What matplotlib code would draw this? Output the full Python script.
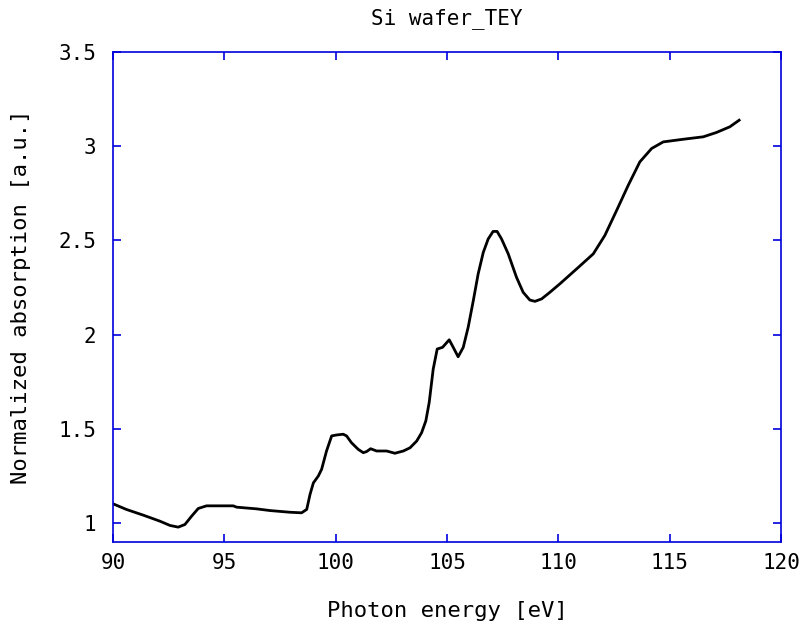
import numpy as np
import matplotlib
matplotlib.use("Agg")
from matplotlib import pyplot as plt

# values
energy = [90.0, 90.6, 91.35, 92.1, 92.56, 92.93, 93.23, 93.53, 93.83, 94.2, 95.4, 95.55,
          96.45, 97.05, 97.95, 98.47, 98.7, 98.85, 99.0, 99.22, 99.37, 99.59, 99.82,
          100.04, 100.34, 100.49, 100.71, 101.01, 101.24, 101.39, 101.57, 101.84,
          102.29, 102.66, 103.04, 103.34, 103.64, 103.86, 104.05, 104.2, 104.38,
          104.56, 104.8, 105.1, 105.28, 105.5, 105.73, 105.95, 106.18, 106.4, 106.63,
          106.85, 107.07, 107.25, 107.45, 107.75, 108.12, 108.42, 108.72, 108.95,
          109.25, 109.62, 110.07, 110.82, 111.57, 112.09, 112.62, 113.14, 113.66,
          114.19, 114.71, 115.61, 116.51, 117.1, 117.7, 118.12]
absorb = [1.103, 1.073, 1.043, 1.011, 0.988, 0.979, 0.993, 1.037, 1.078, 1.092, 1.092, 1.085,
          1.076, 1.067, 1.058, 1.055, 1.073, 1.153, 1.214, 1.25, 1.286, 1.383, 1.463,
          1.468, 1.472, 1.463, 1.427, 1.392, 1.374, 1.38, 1.395, 1.383,
          1.383, 1.371, 1.383, 1.40, 1.436, 1.48, 1.543, 1.64, 1.817,
          1.924, 1.933, 1.973, 1.933, 1.883, 1.933, 2.039, 2.18, 2.323, 2.437,
          2.508, 2.548, 2.548, 2.508, 2.429, 2.305, 2.225, 2.184, 2.177,
          2.19, 2.225, 2.27, 2.349, 2.429, 2.527, 2.66, 2.793, 2.917,
          2.988, 3.023, 3.037, 3.05, 3.073, 3.103, 3.138]

x_ticks = [90, 95, 100, 105, 110, 115, 120]
y_ticks = [1, 1.5, 2, 2.5, 3, 3.5]
y_labels = ["1", "1.5", "2", "2.5", "3", "3.5"]

plt.rcParams['font.family'] = ['DejaVu Sans Mono']

fig = plt.figure(figsize=(8.07, 6.31), dpi=100)
ax = fig.add_axes([0.14, 0.141, 0.8278, 0.7766])

ax.plot(energy, absorb, color='black', linewidth=2.0, solid_joinstyle='round')

ax.set_xlim(90, 120)
ax.set_ylim(0.9, 3.5)
ax.set_xticks(x_ticks)
ax.set_yticks(y_ticks)
ax.set_yticklabels(y_labels)

blue = '#0000dd'
for s in ax.spines.values():
    s.set_color(blue)
    s.set_linewidth(1.2)
ax.tick_params(direction='in', length=6, width=1.2, color=blue, labelsize=15,
               top=True, right=True)
ax.tick_params(axis='x', pad=8)
ax.tick_params(axis='y', pad=12)

ax.set_xlabel('Photon energy [eV]', fontsize=16, labelpad=20)
ax.set_ylabel('Normalized absorption [a.u.]', fontsize=16, labelpad=20)
ax.set_title('Si wafer_TEY', fontsize=15, pad=20)

fig.savefig('out.png', dpi=100)
